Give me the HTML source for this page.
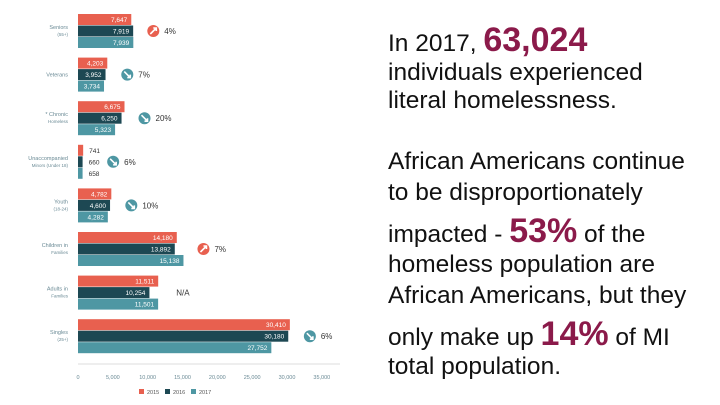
<!DOCTYPE html>
<html><head><meta charset="utf-8"><style>
body{margin:0;width:720px;height:405px;background:#fff;overflow:hidden;position:relative;font-family:"Liberation Sans",sans-serif}
.t{position:absolute;left:388px;font-size:24.5px;line-height:28px;color:#111;white-space:nowrap}
.b{color:#8b1a4a;font-weight:bold;font-size:34px}
</style></head><body>
<svg id="chart" width="370" height="405" style="position:absolute;left:0;top:0" font-family="Liberation Sans, sans-serif"></svg>
<div class="t" style="top:26px">In 2017, <span class="b">63,024</span></div>
<div class="t" style="top:59px">individuals experienced</div>
<div class="t" style="top:87px">literal homelessness.</div>
<div class="t" style="top:148px">African Americans continue</div>
<div class="t" style="top:179px">to be disproportionately</div>
<div class="t" style="top:217px">impacted - <span class="b">53%</span> of the</div>
<div class="t" style="top:251px">homeless population are</div>
<div class="t" style="top:282px">African Americans, but they</div>
<div class="t" style="top:320px">only make up <span class="b">14%</span> of MI</div>
<div class="t" style="top:353px">total population.</div>
<script>
const categories=[["Seniors","(55+)"],["Veterans",""],["* Chronic","Homeless"],["Unaccompanied","Minors (Under 18)"],["Youth","(18-24)"],["Children in","Families"],["Adults in","Families"],["Singles","(25+)"]];
const v2015=[7647,4203,6675,741,4782,14180,11511,30410];
const v2016=[7919,3952,6250,660,4600,13892,10254,30180];
const v2017=[7939,3734,5323,658,4282,15138,11501,27752];
const changes=["4%","7%","20%","6%","10%","7%","N/A","6%"];
const directions=["up","down","down","down","down","up","none","down"];
const ticks=[0,5000,10000,15000,20000,25000,30000,35000];
const years=["2015","2016","2017"];
const colors=["#e8604f","#1d4853","#4e97a3"];
const svg=document.getElementById('chart');
const NS="http://www.w3.org/2000/svg";
const x0=78,scale=209/30000;
const xs=v=>x0+v*scale;
const gy=i=>14+i*43.6;
function mk(tag,attrs,parent){const e=document.createElementNS(NS,tag);for(const k in attrs)e.setAttribute(k,attrs[k]);(parent||svg).appendChild(e);return e;}
const series=[v2015,v2016,v2017];
categories.forEach((c,i)=>{
  const lbl=mk('text',{x:68,y:gy(i)+(c[1]?15:19),'text-anchor':'end','font-size':5.5,fill:'#6a8a95'});
  
  
  lbl.textContent=c[0];
  if(c[1]){
    const s=mk('text',{x:68,y:gy(i)+22,'text-anchor':'end','font-size':4.5,fill:'#6a8a95'});
    
    
    s.textContent=c[1];
  }
  let maxX=0,anySmall=false;
  series.forEach((s,k)=>{
    const w=s[i]*scale,y=gy(i)+k*11.5;
    const r=mk('rect',{x:x0,y:y,width:w,height:11,fill:colors[k]});
    
    
    maxX=Math.max(maxX,xs(s[i]));
    const small=w<20;
    if(small)anySmall=true;
    const t=mk('text',{x:small?xs(s[i])+6:xs(s[i])-4,y:y+8,'text-anchor':small?'start':'end','font-size':6.5,fill:small?'#333':'#fff'});
    
    
    t.textContent=s[i].toLocaleString('en-US');
  });
  const cx=maxX+(anySmall?30:20),cy=gy(i)+17;
  if(directions[i]!=='none'){
    const col=directions[i]==='up'?'#e8604f':'#4e97a3';
    const ci=mk('circle',{cx:cx,cy:cy,r:6,fill:col});
    
    
    const d=directions[i]==='up'?`M${cx-3} ${cy+3}L${cx+3} ${cy-3}M${cx} ${cy-3}L${cx+3} ${cy-3}L${cx+3} ${cy}`:`M${cx-3} ${cy-3}L${cx+3} ${cy+3}M${cx} ${cy+3}L${cx+3} ${cy+3}L${cx+3} ${cy}`;
    mk('path',{d:d,stroke:'#fff','stroke-width':1.6,fill:'none'});
  }
  const ct=mk('text',{x:directions[i]==='none'?cx-2:cx+11,y:cy+3,'font-size':8,fill:'#333'});
  
  
  ct.textContent=changes[i];
});
const ax=mk('line',{x1:x0,x2:340,y1:364,y2:364,stroke:'#ddd','stroke-width':1});


ticks.forEach(t=>{
  const tt=mk('text',{x:xs(t),y:379,'text-anchor':'middle','font-size':5.5,fill:'#6a8a95'});
  
  
  tt.textContent=t===0?'0':t.toLocaleString('en-US');
});
years.forEach((y,k)=>{
  const lx=139+k*26;
  const r=mk('rect',{x:lx,y:389,width:5,height:5,fill:colors[k]});
  
  
  const t=mk('text',{x:lx+8,y:394,'font-size':5.5,fill:'#555'});
  
  
  t.textContent=y;
});
</script>
</body></html>
